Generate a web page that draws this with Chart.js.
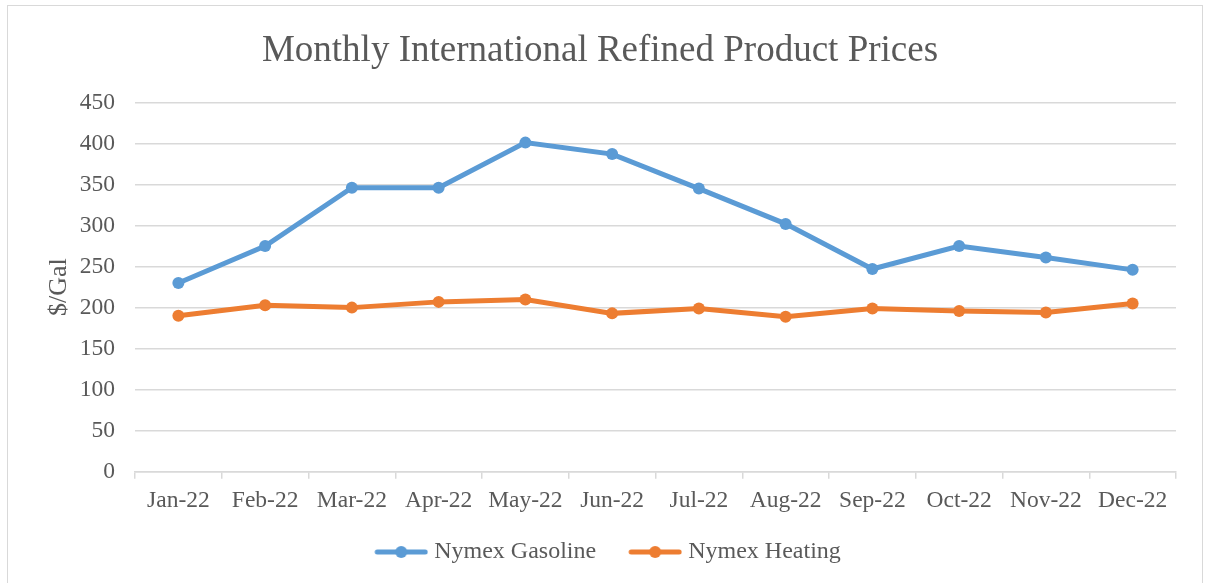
<!DOCTYPE html>
<html>
<head>
<meta charset="utf-8">
<script src="https://cdn.jsdelivr.net/npm/chart.js@4"></script>
<style>
  body { margin: 0; background: #fff; }
  #wrap { position: absolute; left: 0; top: 0; width: 1205px; height: 583px; }
  #frame { position: absolute; left: 7px; top: 5px; width: 1194px; height: 600px; border: 1px solid #d9d9d9; pointer-events: none; }
</style>
</head>
<body>
<div id="wrap"><canvas id="myChart" width="1205" height="583"></canvas></div>
<div id="frame"></div>
<script>
const months = ["Jan-22", "Feb-22", "Mar-22", "Apr-22", "May-22", "Jun-22",
  "Jul-22", "Aug-22", "Sep-22", "Oct-22", "Nov-22", "Dec-22"];
const gasoline = [230, 275, 346, 346, 401, 387, 345, 302, 247, 275, 261, 246];
const heating = [190, 203, 200, 207, 210, 193, 199, 189, 199, 196, 194, 205];

const blue = "#5B9BD5";
const orange = "#ED7D31";
const textColor = "#595959";
const gridColor = "#d9d9d9";
const serif = "'Liberation Serif', 'Times New Roman', serif";

// legend marker: line with a dot, drawn in the right part of a wider canvas
// so the gap before each legend item matches the original
function legendMarker(color) {
  const c = document.createElement("canvas");
  c.width = 75;
  c.height = 14;
  const g = c.getContext("2d");
  const x0 = 75 - 54;
  g.strokeStyle = color;
  g.lineWidth = 5;
  g.lineCap = "round";
  g.beginPath();
  g.moveTo(x0 + 3, 7);
  g.lineTo(x0 + 51, 7);
  g.stroke();
  g.fillStyle = color;
  g.beginPath();
  g.arc(x0 + 27, 7, 6, 0, Math.PI * 2);
  g.fill();
  return c;
}
const markers = [legendMarker(blue), legendMarker(orange)];

const ctx = document.getElementById("myChart").getContext("2d");

const myChart = new Chart(ctx, {
  type: "line",
  data: {
    labels: months,
    datasets: [
      {
        label: "Nymex Gasoline",
        data: gasoline,
        borderColor: blue,
        backgroundColor: blue,
        borderWidth: 5,
        pointRadius: 6,
        pointBorderWidth: 0,
        pointBackgroundColor: blue,
        tension: 0,
      },
      {
        label: "Nymex Heating",
        data: heating,
        borderColor: orange,
        backgroundColor: orange,
        borderWidth: 5,
        pointRadius: 6,
        pointBorderWidth: 0,
        pointBackgroundColor: orange,
        tension: 0,
      },
    ],
  },
  options: {
    responsive: false,
    animation: false,
    layout: {
      padding: { left: 24, right: 29, top: 10, bottom: 9 },
    },
    scales: {
      x: {
        offset: true,
        grid: {
          offset: true,
          drawOnChartArea: false,
          drawTicks: true,
          tickLength: 7,
          color: gridColor,
          lineWidth: 1.5,
        },
        border: { color: gridColor, width: 1.5 },
        ticks: {
          color: textColor,
          font: { family: serif, size: 23.5 },
          padding: 8,
          maxRotation: 0,
          autoSkip: false,
        },
      },
      y: {
        min: 0,
        max: 450,
        grid: {
          color: gridColor,
          lineWidth: 1.5,
          drawTicks: false,
        },
        border: { display: false },
        ticks: {
          stepSize: 50,
          color: textColor,
          font: { family: serif, size: 23.5 },
          padding: 20,
        },
        title: {
          display: true,
          text: "$/Gal",
          color: textColor,
          font: { family: serif, size: 26 },
          padding: { top: 20, bottom: 0 },
        },
        afterFit: (scale) => {
          scale.width = 111;
        },
      },
    },
    plugins: {
      title: {
        display: true,
        text: "Monthly International Refined Product Prices",
        color: textColor,
        font: { family: serif, size: 37, weight: "normal" },
        padding: { top: 19, bottom: 29 },
      },
      legend: {
        position: "bottom",
        labels: {
          usePointStyle: true,
          pointStyleWidth: 63,
          padding: 17,
          color: textColor,
          font: { family: serif, size: 24 },
          generateLabels: (chart) => {
            const items = Chart.defaults.plugins.legend.labels.generateLabels(chart);
            items.forEach((it, i) => {
              it.pointStyle = markers[i];
            });
            return items;
          },
        },
      },
      tooltip: { enabled: false },
    },
  },
});
</script>
</body>
</html>
